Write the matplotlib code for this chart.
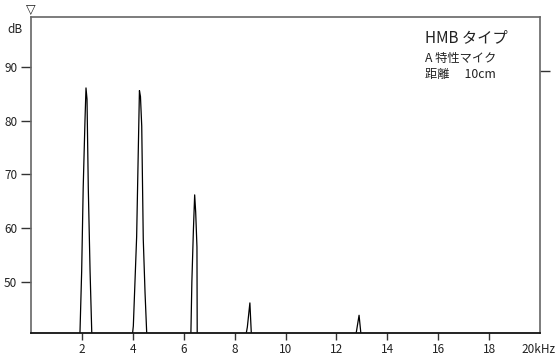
import matplotlib.pyplot as plt

plt.rcParams['font.family'] = ['Noto Sans CJK JP', 'DejaVu Sans']

# spectrum trace (kHz, dB); baseline sits under the x axis
freq_khz = [0.0, 1.92, 1.99, 2.05, 2.12, 2.16, 2.20, 2.25, 2.32, 2.39,
            3.98, 4.02, 4.10, 4.15, 4.22, 4.26, 4.30, 4.35, 4.41, 4.48, 4.55,
            6.28, 6.32, 6.38, 6.43, 6.47, 6.52, 6.53,
            8.44, 8.50, 8.60, 8.66,
            12.76, 12.89, 12.97, 20.0]
level_db = [40.0, 40.0, 52.0, 67.5, 80.0, 86.1, 84.0, 67.5, 52.0, 40.0,
            40.0, 41.8, 52.0, 58.4, 75.8, 85.6, 84.5, 79.0, 58.0, 48.0, 40.0,
            40.0, 50.0, 59.6, 66.2, 63.0, 56.5, 40.0,
            40.0, 41.6, 46.1, 40.0,
            40.0, 43.8, 40.0, 40.0]

x_ticks = [2, 4, 6, 8, 10, 12, 14, 16, 18]
y_ticks = [50, 60, 70, 80, 90]
right_mark_db = 89.3

fig = plt.figure(figsize=(5.57, 3.57), dpi=100)
ax = fig.add_axes([0.0557, 0.0672, 0.9138, 0.8852])

ax.plot(freq_khz, level_db, color='black', lw=0.9)
ax.set_xlim(0, 20)
ax.set_ylim(40.5, 99.3)

ax.set_xticks(x_ticks)
ax.set_yticks(y_ticks)
ax.tick_params(axis='both', direction='out', width=1, color='#333333',
               labelsize=8.5, labelcolor='#222222')
ax.tick_params(axis='x', length=5, pad=2)
ax.tick_params(axis='y', length=7, pad=3)

for side in ['left', 'top', 'right']:
    ax.spines[side].set_color('#666666')
    ax.spines[side].set_linewidth(1.2)
ax.spines['bottom'].set_color('#111111')
ax.spines['bottom'].set_linewidth(1.3)

# short outward tick on the right edge
sec = ax.secondary_yaxis('right')
sec.set_yticks([right_mark_db])
sec.set_yticklabels([''])
sec.tick_params(direction='out', length=7, width=1, color='#333333')
sec.spines['right'].set_visible(False)

fig.text(0.998, 0.022, '20kHz', fontsize=8.5, color='#222222',
         ha='right', va='center')
ax.text(-0.032, 0.96, 'dB', transform=ax.transAxes, fontsize=8.5,
        color='#222222', ha='center', va='center')
ax.annotate('▽', xy=(0, 1), xycoords='axes fraction', xytext=(0, 1),
            textcoords='offset points', ha='center', va='bottom',
            fontsize=9, color='#222222', family=['DejaVu Sans'])

ax.text(0.775, 0.935, 'HMB タイプ', transform=ax.transAxes, fontsize=11,
        color='#222222', va='center')
ax.text(0.775, 0.868, 'A 特性マイク', transform=ax.transAxes, fontsize=8.8,
        color='#222222', va='center')
ax.text(0.775, 0.818, '距離\u3000 10cm', transform=ax.transAxes, fontsize=8.8,
        color='#222222', va='center')

fig.savefig('out.png', dpi=100)
